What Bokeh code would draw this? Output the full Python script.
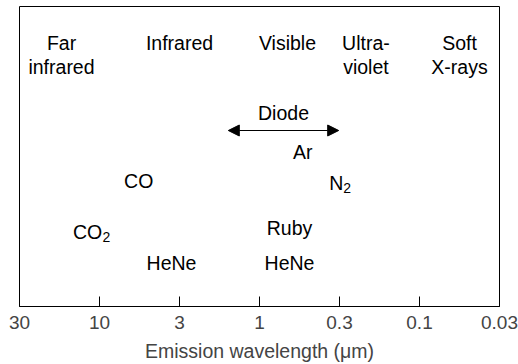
from bokeh.plotting import figure
from bokeh.models import Range1d, LinearAxis, FixedTicker, Arrow, NormalHead, ColumnDataSource
from bokeh.core.properties import value
from bokeh.embed import file_html
from bokeh.resources import INLINE

FONT = "Liberation Sans"

# ---- data ----
tick_labels = ["30", "10", "3", "1", "0.3", "0.1", "0.03"]
tick_pos = [0, 1, 2, 3, 4, 5, 6]

region_line1 = ["Far", "Infrared", "Visible", "Ultra-", "Soft"]
region_line2 = ["infrared", "", "", "violet", "X-rays"]
region_pos = [0.525, 2.0, 3.35, 4.33, 5.5]

laser_names = ["Diode", "Ar", "N", "CO", "CO", "Ruby", "HeNe", "HeNe"]
laser_subs = ["", "", "2", "", "2", "", "", ""]
laser_pos = [3.3, 3.54, 3.96, 1.49, 0.85, 3.375, 1.9, 3.375]

diode_start = 2.61
diode_end = 3.99

# ---- layout (rows measured from top of frame) ----
region_row1 = 36
region_row2 = 60
laser_row = [106, 145, 176, 174, 225, 221, 256, 256]
sub_drop = 5
sub_offset = [0, 0, 7, 0, 15, 0, 0, 0]
diode_row = 124

p = figure(width=518, height=364, output_backend="svg", toolbar_location=None,
           x_range=Range1d(0, 6), y_range=Range1d(300, 0),
           x_axis_type=None, y_axis_type=None,
           min_border_left=19, min_border_right=19, min_border_top=6, min_border_bottom=58)
p.grid.visible = False
p.outline_line_color = "black"
p.outline_line_width = 1
p.background_fill_color = "white"
p.border_fill_color = "white"

ax = LinearAxis(ticker=FixedTicker(ticks=tick_pos),
                major_label_overrides={t: l for t, l in zip(tick_pos, tick_labels)})
ax.axis_label = "Emission wavelength (μm)"
ax.axis_label_text_font = FONT
ax.axis_label_text_font_size = "19.5px"
ax.axis_label_text_font_style = "normal"
ax.axis_label_standoff = 8
ax.major_label_text_font = FONT
ax.major_label_text_font_size = "19px"
ax.major_label_standoff = 9
ax.major_tick_in = 10
ax.major_tick_out = 0
ax.minor_tick_in = 0
ax.minor_tick_out = 0
ax.axis_line_color = "black"
ax.major_tick_line_color = "black"
p.add_layout(ax, "below")

# region labels
src1 = ColumnDataSource(dict(x=region_pos, y=[region_row1] * len(region_pos), t=region_line1))
src2 = ColumnDataSource(dict(x=region_pos, y=[region_row2] * len(region_pos), t=region_line2))
for s in (src1, src2):
    p.text(x="x", y="y", text="t", source=s, text_align="center", text_baseline="alphabetic",
           text_font=value(FONT), text_font_size="19.5px", text_color="black")

# laser labels
lsrc = ColumnDataSource(dict(x=laser_pos, y=laser_row, t=laser_names))
p.text(x="x", y="y", text="t", source=lsrc, text_align="center", text_baseline="alphabetic",
       text_font=value(FONT), text_font_size="19.5px", text_color="black")

sub_idx = [i for i, s in enumerate(laser_subs) if s]
ssrc = ColumnDataSource(dict(x=[laser_pos[i] for i in sub_idx],
                             y=[laser_row[i] + sub_drop for i in sub_idx],
                             t=[laser_subs[i] for i in sub_idx],
                             xo=[sub_offset[i] for i in sub_idx]))
p.text(x="x", y="y", text="t", source=ssrc, x_offset="xo", text_align="left",
       text_baseline="alphabetic", text_font=value(FONT), text_font_size="14px",
       text_color="black")

# diode range arrow
p.add_layout(Arrow(x_start=diode_start, y_start=diode_row, x_end=diode_end, y_end=diode_row,
                   line_color="black", line_width=1.2,
                   start=NormalHead(size=11, fill_color="black", line_color="black"),
                   end=NormalHead(size=11, fill_color="black", line_color="black")))

open("out.html", "w").write(file_html(p, INLINE))
